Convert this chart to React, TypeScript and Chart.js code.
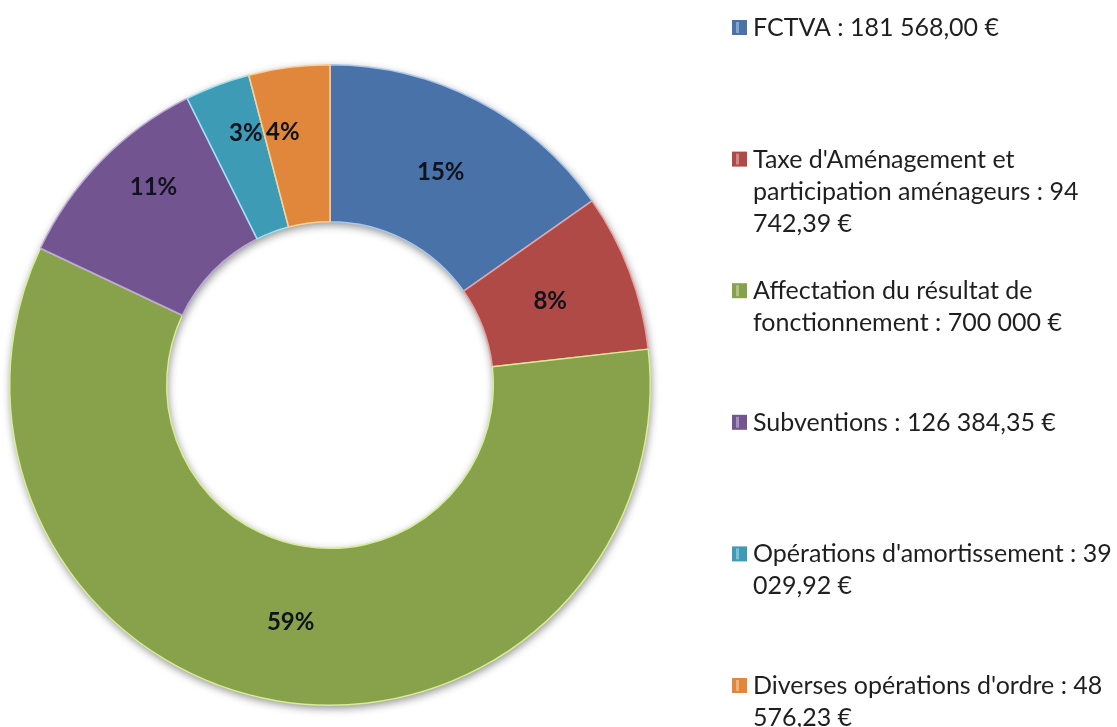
import React, { useEffect, useRef } from 'react';
import { Chart, registerables } from 'chart.js';

Chart.register(...registerables);

const categories = [
  'FCTVA',
  "Taxe d'Aménagement et participation aménageurs",
  'Affectation du résultat de fonctionnement',
  'Subventions',
  "Opérations d'amortissement",
  "Diverses opérations d'ordre",
];

const amounts = [181568.0, 94742.39, 700000, 126384.35, 39029.92, 48576.23];

const legendLines = [
  ['FCTVA : 181 568,00 €'],
  ["Taxe d'Aménagement et", 'participation aménageurs : 94', '742,39 €'],
  ['Affectation du résultat de', 'fonctionnement : 700 000 €'],
  ['Subventions : 126 384,35 €'],
  ["Opérations d'amortissement : 39", '029,92 €'],
  ["Diverses opérations d'ordre : 48", '576,23 €'],
];

const fillColors = ['#4872A8', '#B04A47', '#88A24B', '#725590', '#3E9BB6', '#E0873B'];
const edgeColors = ['#A9C8EE', '#EBA3A1', '#D7EE95', '#BBA8D8', '#A2E2F2', '#FBD196'];

// label placement tweaks (fraction across ring thickness, angle shift in degrees)
const labelFrac = [0.49, 0.46, 0.49, 0.65, 0.65, 0.6];
const labelShift = [0, 0, 0, 3.9, 2.1, -3.2];

const shadowPlugin = {
  id: 'ringShadow',
  beforeDatasetsDraw(chart: any) {
    const arc = chart.getDatasetMeta(0).data[0];
    if (!arc) return;
    const { x, y, outerRadius, innerRadius } = arc.getProps(['x', 'y', 'outerRadius', 'innerRadius'], true);
    const ctx = chart.ctx;
    ctx.save();
    ctx.shadowColor = 'rgba(0,0,0,0.45)';
    ctx.shadowBlur = 8;
    ctx.shadowOffsetX = 1;
    ctx.shadowOffsetY = 3;
    ctx.beginPath();
    ctx.arc(x, y, outerRadius, 0, Math.PI * 2, false);
    ctx.moveTo(x + innerRadius, y);
    ctx.arc(x, y, innerRadius, 0, Math.PI * 2, true);
    ctx.fillStyle = '#808080';
    ctx.fill();
    ctx.restore();
  },
};

const labelPlugin = {
  id: 'pctLabels',
  afterDatasetsDraw(chart: any) {
    const ctx = chart.ctx;
    const meta = chart.getDatasetMeta(0);
    const values: number[] = chart.data.datasets[0].data;
    const total = values.reduce((a, b) => a + b, 0);
    ctx.save();
    ctx.font = 'bold 24px Lato';
    ctx.fillStyle = '#10131c';
    ctx.textAlign = 'center';
    ctx.textBaseline = 'middle';
    meta.data.forEach((arc: any, i: number) => {
      const p = arc.getProps(['x', 'y', 'startAngle', 'endAngle', 'innerRadius', 'outerRadius'], true);
      const mid = (p.startAngle + p.endAngle) / 2 + (labelShift[i] * Math.PI) / 180;
      const r = p.innerRadius + (p.outerRadius - p.innerRadius) * labelFrac[i];
      const tx = p.x + Math.cos(mid) * r;
      const ty = p.y + Math.sin(mid) * r;
      ctx.fillText(Math.round((values[i] / total) * 100) + '%', tx, ty);
    });
    ctx.restore();
  },
};

const legendPlugin = {
  id: 'sideLegend',
  afterDraw(chart: any) {
    const ctx = chart.ctx;
    const colors: string[] = chart.data.datasets[0].backgroundColor;
    const firstY = 27;
    const step = 131.6;
    const lineH = 32;
    const markX = 732;
    const textX = 753;
    ctx.save();
    ctx.font = '25px Lato';
    ctx.textBaseline = 'middle';
    ctx.textAlign = 'left';
    legendLines.forEach((lines, i) => {
      const y0 = firstY + i * step;
      ctx.fillStyle = colors[i];
      ctx.fillRect(markX, y0 - 7, 15, 15);
      ctx.fillStyle = 'rgba(255,255,255,0.35)';
      ctx.fillRect(markX + 4, y0 - 5, 3, 11);
      ctx.fillStyle = '#1f1f1f';
      lines.forEach((t, j) => ctx.fillText(t, textX, y0 + 1 + j * lineH));
    });
    ctx.restore();
  },
};

export default function App() {
  const ref = useRef<HTMLCanvasElement>(null);
  useEffect(() => {
    document.body.style.margin = '0';
    const chart = new Chart(ref.current as HTMLCanvasElement, {
      type: 'doughnut',
      data: {
        labels: categories,
        datasets: [
          {
            data: amounts,
            backgroundColor: fillColors,
            borderColor: edgeColors,
            borderWidth: 1.5,
          },
        ],
      },
      options: {
        responsive: false,
        animation: false,
        cutout: '51%',
        layout: { padding: { left: 9, top: 64, right: 466, bottom: 21 } },
        plugins: { legend: { display: false }, tooltip: { enabled: false } },
      },
      plugins: [shadowPlugin, labelPlugin, legendPlugin],
    } as any);
    return () => chart.destroy();
  }, []);
  return (
    <div style={{ position: 'fixed', left: 0, top: 0, width: 1117, height: 727, background: '#fff' }}>
      <canvas ref={ref} width={1117} height={727} style={{ width: 1117, height: 727, display: 'block' }} />
    </div>
  );
}
